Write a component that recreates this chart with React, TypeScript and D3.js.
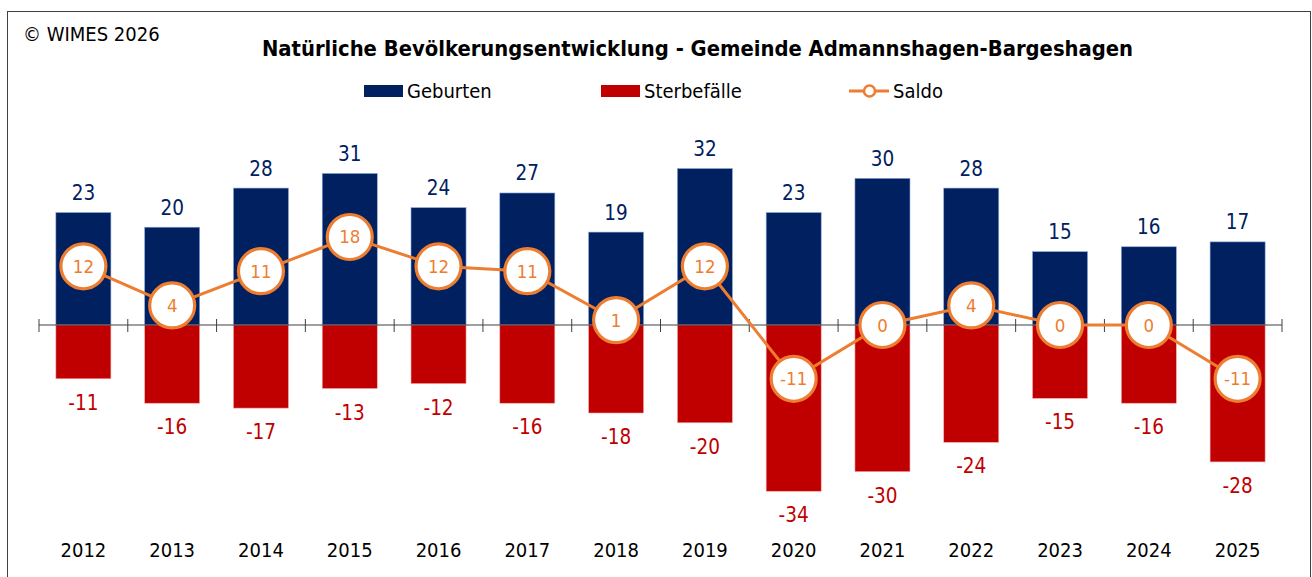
import React from "react";
import * as d3 from "d3";

const years = ["2012","2013","2014","2015","2016","2017","2018","2019","2020","2021","2022","2023","2024","2025"];
const geburten = [23,20,28,31,24,27,19,32,23,30,28,15,16,17];
const sterbefaelle = [-11,-16,-17,-13,-12,-16,-18,-20,-34,-30,-24,-15,-16,-28];
const saldo = [12,4,11,18,12,11,1,12,-11,0,4,0,0,-11];

const title = "Natürliche Bevölkerungsentwicklung - Gemeinde Admannshagen-Bargeshagen";
const copyright = "© WIMES 2026";
const legendLabels = ["Geburten", "Sterbefälle", "Saldo"];

const W = 1312, H = 577;
const NAVY = "#002060", RED = "#C00000", ORANGE = "#ED7D31";
const FONT = "'DejaVu Sans Condensed', 'DejaVu Sans', sans-serif";

export default function App() {
  const x = d3.scaleBand<string>().domain(years).range([39, 1282]).paddingInner(0.38).paddingOuter(0.19);
  const y = d3.scaleLinear().domain([-40, 40]).range([325 + 40 * 4.89, 325 - 40 * 4.89]);
  const bw = x.bandwidth();
  const cx = (yr: string) => (x(yr) as number) + bw / 2;
  const line = d3.line<number>().x((_, i) => cx(years[i])).y((d) => y(d));
  const step = x.step();
  const tickXs = d3.range(years.length + 1).map((i) => 39 + i * step);

  return (
    <svg width={W} height={H} style={{ position: "absolute", left: 0, top: 0, fontFamily: FONT, fontStretch: "condensed" }}>
      <rect x={0} y={0} width={W} height={H} fill="#fff" />
      <rect x={7.5} y={11.5} width={1303} height={H + 20} fill="none" stroke="#404040" strokeWidth={1} />
      <text x={23} y={41} fontSize={20} fill="#000">{copyright}</text>
      <text x={697.5} y={56} fontSize={21.8} fontWeight="bold" textAnchor="middle" fill="#000">{title}</text>

      {/* legend */}
      <g fontSize={20} fill="#000">
        <rect x={364} y={85} width={39} height={12} fill={NAVY} />
        <text x={407} y={98}>{legendLabels[0]}</text>
        <rect x={601} y={85} width={39} height={12} fill={RED} />
        <text x={644} y={98}>{legendLabels[1]}</text>
        <line x1={849} x2={889} y1={91} y2={91} stroke={ORANGE} strokeWidth={3} />
        <circle cx={869.5} cy={91} r={5.5} fill="#fff" stroke={ORANGE} strokeWidth={2.5} />
        <text x={893} y={98}>{legendLabels[2]}</text>
      </g>

      {/* bars */}
      {years.map((yr, i) => (
        <g key={yr}>
          <rect x={x(yr)} y={y(geburten[i])} width={bw} height={y(0) - y(geburten[i])} fill={NAVY} stroke="#8EA9DB" strokeWidth={0.6} />
          <rect x={x(yr)} y={y(0)} width={bw} height={y(sterbefaelle[i]) - y(0)} fill={RED} stroke="#F4B0B0" strokeWidth={0.6} />
          <text x={cx(yr)} y={y(geburten[i]) - 12.5} fontSize={20.5} textAnchor="middle" fill={NAVY}>{geburten[i]}</text>
          <text x={cx(yr)} y={y(sterbefaelle[i]) + 31} fontSize={20.5} textAnchor="middle" fill={RED}>{sterbefaelle[i]}</text>
          <text x={cx(yr)} y={557} fontSize={20} textAnchor="middle" fill="#000">{yr}</text>
        </g>
      ))}

      {/* axis */}
      <line x1={39} x2={1282} y1={y(0)} y2={y(0)} stroke="#404040" strokeWidth={1} />
      {tickXs.map((tx, i) => (
        <line key={i} x1={tx} x2={tx} y1={y(0) - 6} y2={y(0) + 7} stroke="#404040" strokeWidth={1} />
      ))}

      {/* saldo line */}
      <path d={line(saldo) || ""} fill="none" stroke={ORANGE} strokeWidth={3} />
      {years.map((yr, i) => (
        <g key={"s" + yr}>
          <circle cx={cx(yr)} cy={y(saldo[i])} r={22.5} fill="#fff" stroke={ORANGE} strokeWidth={3.2} />
          <text x={cx(yr)} y={y(saldo[i]) + 6.5} fontSize={18.5} textAnchor="middle" fill={ORANGE}>{saldo[i]}</text>
        </g>
      ))}
    </svg>
  );
}
